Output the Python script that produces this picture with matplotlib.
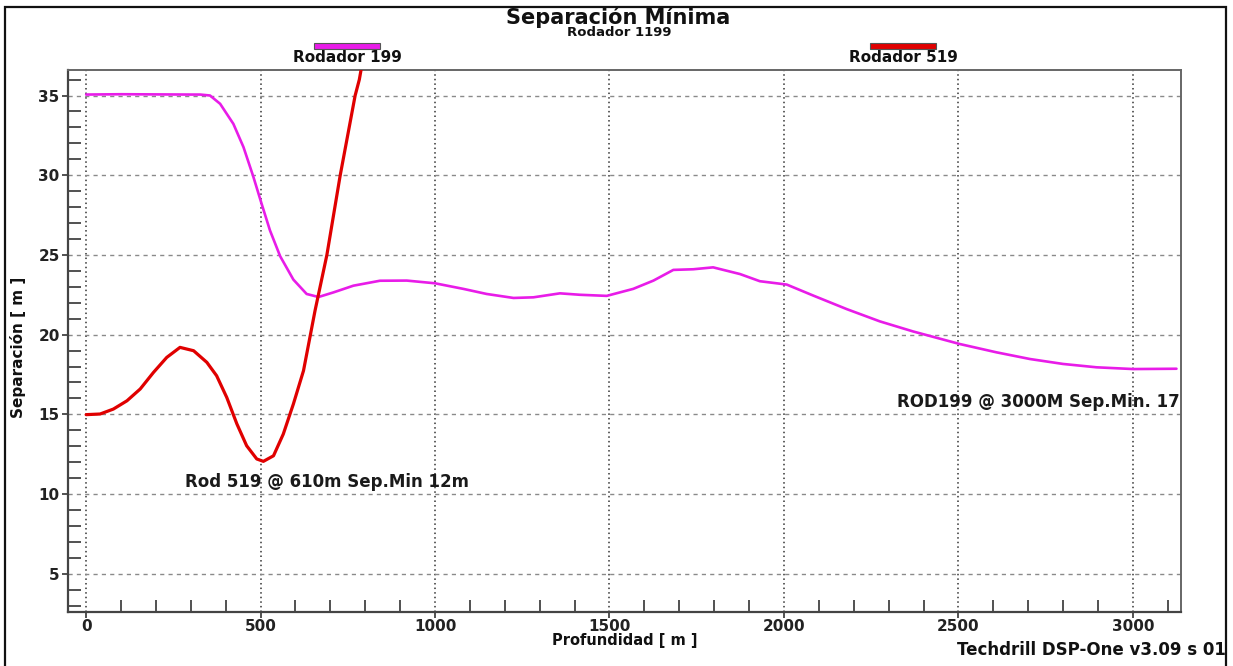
import matplotlib
matplotlib.use("Agg")
import matplotlib.pyplot as plt
from matplotlib.ticker import MultipleLocator
from matplotlib.patches import Rectangle

# ---- data ----
depth_199 = [0, 100, 200, 300, 327, 355, 384, 422, 451, 479, 503, 527, 556, 594, 632, 666,
             709, 766, 842, 919, 1000, 1081, 1148, 1225, 1282, 1358, 1415, 1492, 1568,
             1626, 1683, 1740, 1797, 1874, 1931, 1979, 2008, 2084, 2180, 2275, 2370,
             2504, 2609, 2705, 2800, 2896, 3001, 3125]
sep_199 = [35.06, 35.08, 35.07, 35.06, 35.06, 35.0, 34.48, 33.22, 31.76, 29.92, 28.2, 26.53,
           24.92, 23.45, 22.55, 22.36, 22.65, 23.07, 23.38, 23.39, 23.22, 22.87, 22.55, 22.3,
           22.34, 22.59, 22.5, 22.43, 22.87, 23.39, 24.06, 24.1, 24.22, 23.8, 23.35,
           23.22, 23.14, 22.45, 21.6, 20.83, 20.2, 19.41, 18.89, 18.47, 18.16, 17.95,
           17.84, 17.86]

depth_519 = [0, 40, 78, 117, 155, 193, 231, 269, 308, 346, 374, 403, 432, 460, 489, 508,
             537, 565, 594, 623, 656, 690, 728, 771, 783, 800]
sep_519 = [14.98, 15.02, 15.33, 15.85, 16.59, 17.63, 18.57, 19.2, 18.99, 18.26, 17.42,
           16.06, 14.4, 13.03, 12.2, 12.05, 12.4, 13.76, 15.65, 17.74, 21.5, 25.0, 29.97,
           35.0, 36.0, 38.1]

series_names = ["Rodador 199", "Rodador 519"]
series_colors = ["#E81CE8", "#E00000"]

x_major = [0, 500, 1000, 1500, 2000, 2500, 3000]
y_major = [5, 10, 15, 20, 25, 30, 35]

title = "Separación Mínima"
subtitle = "Rodador 1199"
xlabel = "Profundidad [ m ]"
ylabel = "Separación [ m ]"
note_519 = "Rod 519 @ 610m Sep.Min 12m"
note_199 = "ROD199 @ 3000M Sep.Min. 17"
footer = "Techdrill DSP-One v3.09 s 01"

# ---- figure ----
W, H = 1233, 666
fig = plt.figure(figsize=(W / 100, H / 100), dpi=100)
fig.patch.set_facecolor("white")

def fx(px):
    return px / W

def fy(py):
    return 1 - py / H

ax = fig.add_axes([fx(68), fy(612), fx(1181) - fx(68), fy(70) - fy(612)])
ax.set_xlim(-52, 3138)
ax.set_ylim(2.6, 36.6)

# grid
for xv in x_major:
    ax.axvline(xv, color="#333333", lw=1.1, linestyle=(0, (1, 2)), zorder=1)
for yv in y_major:
    ax.axhline(yv, color="#8a8a8a", lw=1.0, linestyle=(0, (3, 3)), zorder=1)

ax.plot(depth_199, sep_199, color=series_colors[0], lw=1.9, zorder=3,
        solid_joinstyle="round", solid_capstyle="round")
ax.plot(depth_519, sep_519, color=series_colors[1], lw=2.3, zorder=4,
        solid_joinstyle="round", solid_capstyle="round")

ax.text(284, 10.77, note_519, ha="left", va="center", fontsize=12, fontweight="bold",
        color="#1a1a1a", zorder=5, clip_on=True)
ax.text(2324, 15.79, note_199, ha="left", va="center", fontsize=12, fontweight="bold",
        color="#1a1a1a", zorder=5, clip_on=True)

# ticks
ax.set_xticks(x_major)
ax.set_yticks(y_major)
ax.xaxis.set_minor_locator(MultipleLocator(100))
ax.yaxis.set_minor_locator(MultipleLocator(1))
ax.tick_params(axis="both", which="major", direction="out", length=4, width=1.2,
               colors="#333333", labelsize=11, labelcolor="#222222")
ax.tick_params(axis="both", which="minor", direction="in", length=9, width=1.2,
               colors="#333333")
for lab in ax.get_xticklabels() + ax.get_yticklabels():
    lab.set_fontweight("bold")
ax.tick_params(axis="x", which="major", pad=1)
ax.tick_params(axis="y", which="major", pad=2)

for s in ["left", "bottom"]:
    ax.spines[s].set_color("#444444")
    ax.spines[s].set_linewidth(1.6)
for s in ["top", "right"]:
    ax.spines[s].set_color("#666666")
    ax.spines[s].set_linewidth(1.4)

# titles and labels (figure coordinates)
fig.text(fx(618), fy(24), title, ha="center", va="baseline", fontsize=15,
         fontweight="bold", color="#111111")
fig.text(fx(619), fy(36.5), subtitle, ha="center", va="baseline", fontsize=9.5,
         fontweight="bold", color="#111111")

# legend bars
leg_x = [314, 870]
for name, col, x0 in zip(series_names, series_colors, leg_x):
    fig.patches.append(Rectangle((fx(x0), fy(49)), fx(66), 6 / H, transform=fig.transFigure,
                                 facecolor=col, edgecolor="#555555", lw=0.8))
    fig.text(fx(x0 + 33), fy(58), name, ha="center", va="center", fontsize=11,
             fontweight="bold", color="#111111")

fig.text(fx(625), fy(641), xlabel, ha="center", va="center", fontsize=10.5,
         fontweight="bold", color="#111111")
fig.text(fx(18), fy(347), ylabel, ha="center", va="center", rotation=90, fontsize=11,
         fontweight="bold", color="#111111",
         family=["Liberation Sans Narrow", "DejaVu Sans"])
fig.text(fx(1226), fy(650), footer, ha="right", va="center", fontsize=12,
         color="#111111", fontweight="semibold")

# outer frame
fig.patches.append(Rectangle((fx(5), fy(668)), fx(1221), (668 - 7) / H,
                             transform=fig.transFigure, facecolor="none",
                             edgecolor="#111111", lw=1.6))

fig.savefig("out.png", dpi=100)
